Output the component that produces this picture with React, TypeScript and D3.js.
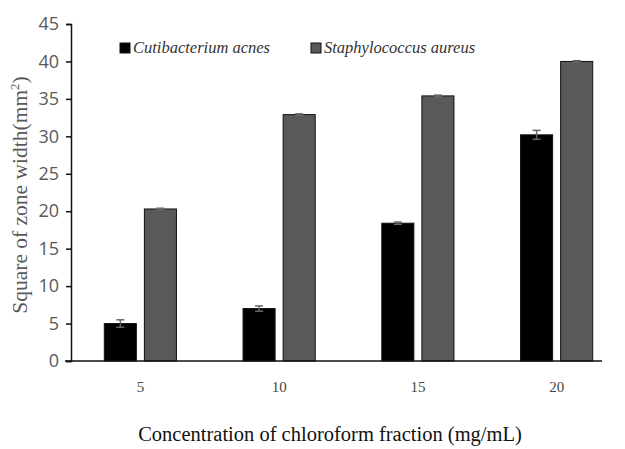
import React, { useEffect, useRef } from 'react';
import * as d3 from 'd3';

const concentrations = ['5', '10', '15', '20'];
const seriesNames = ['Cutibacterium acnes', 'Staphylococcus aureus'];
const acnesValues = [5.0, 7.0, 18.4, 30.2];
const acnesErrors = [0.5, 0.35, 0.15, 0.6];
const aureusValues = [20.3, 32.9, 35.4, 40.0];
const aureusErrors = [0.1, 0.1, 0.1, 0.1];
const yTicks = [0, 5, 10, 15, 20, 25, 30, 35, 40, 45];
const colors = ['#000000', '#595959'];

const SERIF = "'Liberation Serif', 'Times New Roman', serif";

const App = () => {
  const ref = useRef<SVGSVGElement>(null);

  useEffect(() => {
    const svg = d3.select(ref.current);
    svg.selectAll('*').remove();

    const left = 71;
    const top = 24;
    const bottom = 361;

    const x = d3.scaleBand()
      .domain(concentrations)
      .range([left, 626])
      .paddingInner(0.48)
      .paddingOuter(0.24);

    const xs = d3.scaleBand()
      .domain(seriesNames)
      .range([0, x.bandwidth()])
      .paddingInner(0.2);

    const y = d3.scaleLinear().domain([0, 45]).range([bottom, top]);

    const values = [acnesValues, aureusValues];
    const errors = [acnesErrors, aureusErrors];

    const data = concentrations.flatMap((c, i) =>
      seriesNames.map((s, j) => ({ c, s, j, v: values[j][i], e: errors[j][i] }))
    );

    // bars
    svg.selectAll('.bar')
      .data(data)
      .enter().append('rect')
      .attr('class', 'bar')
      .attr('x', d => x(d.c)! + xs(d.s)!)
      .attr('width', xs.bandwidth())
      .attr('y', d => y(d.v))
      .attr('height', d => y(0) - y(d.v))
      .attr('fill', d => colors[d.j])
      .attr('stroke', '#111')
      .attr('stroke-width', 1);

    // error bars
    const eb = svg.selectAll('.err')
      .data(data)
      .enter().append('g')
      .attr('class', 'err')
      .attr('stroke', '#666')
      .attr('stroke-width', 1.5);
    const cx = d => x(d.c)! + xs(d.s)! + xs.bandwidth() / 2;
    eb.append('line')
      .attr('x1', cx).attr('x2', cx)
      .attr('y1', d => y(d.v + d.e)).attr('y2', d => y(d.v - d.e));
    eb.append('line')
      .attr('x1', d => cx(d) - 4).attr('x2', d => cx(d) + 4)
      .attr('y1', d => y(d.v + d.e)).attr('y2', d => y(d.v + d.e));
    eb.append('line')
      .attr('x1', d => cx(d) - 4).attr('x2', d => cx(d) + 4)
      .attr('y1', d => y(d.v - d.e)).attr('y2', d => y(d.v - d.e));

    // y axis
    const yAxis = svg.append('g')
      .attr('transform', `translate(${left},0)`)
      .call(d3.axisLeft(y).tickValues(yTicks).tickSize(5).tickPadding(7));
    yAxis.select('.domain').attr('stroke', '#111').attr('stroke-width', 1.5);
    yAxis.selectAll('.tick line').attr('stroke', '#111').attr('stroke-width', 1.5);
    yAxis.selectAll('.tick text')
      .attr('fill', '#595959')
      .style('font-family', "'Open Sans', sans-serif")
      .style('font-size', '18px');

    // x axis
    svg.append('line')
      .attr('x1', 65).attr('x2', 602)
      .attr('y1', bottom).attr('y2', bottom)
      .attr('stroke', '#111').attr('stroke-width', 1.5);

    svg.selectAll('.xlabel')
      .data(concentrations)
      .enter().append('text')
      .attr('class', 'xlabel')
      .attr('x', d => x(d)! + x.bandwidth() / 2)
      .attr('y', 392)
      .attr('text-anchor', 'middle')
      .style('font-family', SERIF)
      .style('font-size', '15px')
      .attr('fill', '#444')
      .text(d => d);

    svg.append('text')
      .attr('x', 330)
      .attr('y', 441)
      .attr('text-anchor', 'middle')
      .style('font-family', SERIF)
      .style('font-size', '20.5px')
      .attr('fill', '#111')
      .text('Concentration of chloroform fraction (mg/mL)');

    const yt = svg.append('text')
      .attr('transform', 'translate(27,195) rotate(-90)')
      .attr('text-anchor', 'middle')
      .style('font-family', SERIF)
      .style('font-size', '21.5px')
      .attr('fill', '#595959');
    yt.append('tspan').text('Square of zone width(mm');
    yt.append('tspan').style('font-size', '13px').attr('dy', -8).text('2');
    yt.append('tspan').attr('dy', 8).text(')');

    // legend
    const legendX = [120, 311];
    const lg = svg.selectAll('.legend')
      .data(seriesNames)
      .enter().append('g')
      .attr('class', 'legend')
      .attr('transform', (d, i) => `translate(${legendX[i]},43)`);
    lg.append('rect')
      .attr('width', 10).attr('height', 10)
      .attr('fill', (d, i) => colors[i])
      .attr('stroke', '#111');
    lg.append('text')
      .attr('x', 13).attr('y', 10)
      .style('font-family', SERIF)
      .style('font-style', 'italic')
      .style('font-size', '16.5px')
      .attr('fill', '#333')
      .text(d => d);
  }, []);

  return <svg ref={ref} width={625} height={449} style={{ position: 'absolute', left: 0, top: 0 }}></svg>;
};

export default App;
